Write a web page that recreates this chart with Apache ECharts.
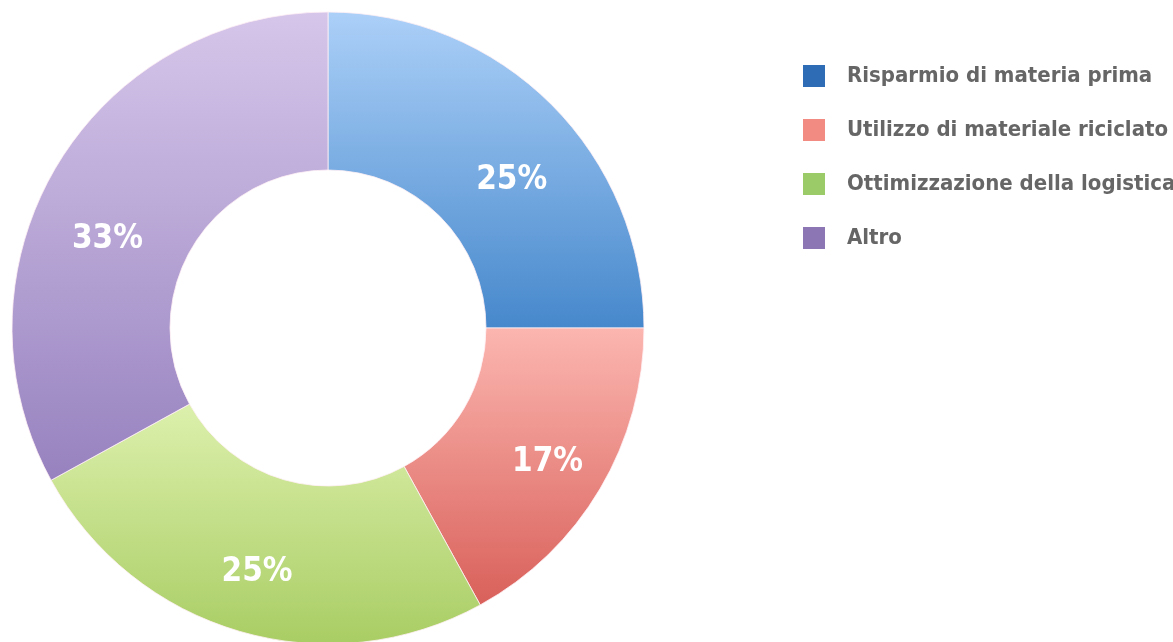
<!DOCTYPE html>
<html>
<head>
<meta charset="utf-8">
<script src="https://cdn.jsdelivr.net/npm/echarts@6/dist/echarts.min.js"></script>
<style>
  html, body { margin: 0; padding: 0; background: #fff; }
  #chart { width: 1173px; height: 642px; }
</style>
</head>
<body>
<div id="chart"></div>
<script>
const categories = ['Risparmio di materia prima', 'Utilizzo di materiale riciclato', 'Ottimizzazione della logistica', 'Altro'];
const shares = [25, 17, 25, 33];

// legend swatch colour, gradient top, gradient bottom
const swatch = ['#2e6db5', '#f28b82', '#9bcb68', '#8c76b4'];
const gradTop = ['#acd0f8', '#fcb6b0', '#dcf0ac', '#d6c6ea'];
const gradBottom = ['#4688cc', '#d9605a', '#a9cd64', '#9782bf'];
// nudges so the labels sit where the original put them
const labelNudge = [[14, 22], [13, 12], [-4, 14], [-14, 34]];

const font = "'DejaVu Sans Condensed', 'Liberation Sans Narrow', 'Roboto', sans-serif";

const myChart = echarts.init(document.getElementById('chart'));

myChart.setOption({
  animation: false,
  legend: {
    orient: 'vertical',
    left: 798,
    top: 60,
    icon: 'rect',
    itemWidth: 22,
    itemHeight: 22,
    itemGap: 32,
    data: categories.map((name, i) => ({ name: name, itemStyle: { color: swatch[i], borderWidth: 0 } })),
    textStyle: {
      color: '#666666',
      fontFamily: font,
      fontWeight: 'bold',
      fontSize: 22,
      lineHeight: 22,
      padding: [0, 0, 0, 17]
    }
  },
  series: [
    {
      type: 'pie',
      center: [328, 328],
      radius: [158, 316],
      startAngle: 90,
      avoidLabelOverlap: false,
      itemStyle: {
        borderColor: 'rgba(255,240,245,0.8)',
        borderWidth: 1
      },
      label: {
        show: true,
        position: 'inside',
        formatter: '{d}%',
        color: '#ffffff',
        fontFamily: font,
        fontWeight: 'bold',
        fontSize: 33
      },
      labelLayout: function (p) {
        return { dx: labelNudge[p.dataIndex][0], dy: labelNudge[p.dataIndex][1] };
      },
      labelLine: { show: false },
      emphasis: { disabled: true },
      data: categories.map((name, i) => ({
        name: name,
        value: shares[i],
        itemStyle: {
          color: new echarts.graphic.LinearGradient(0, 0, 0, 1, [
            { offset: 0, color: gradTop[i] },
            { offset: 1, color: gradBottom[i] }
          ])
        }
      }))
    }
  ]
});
</script>
</body>
</html>
